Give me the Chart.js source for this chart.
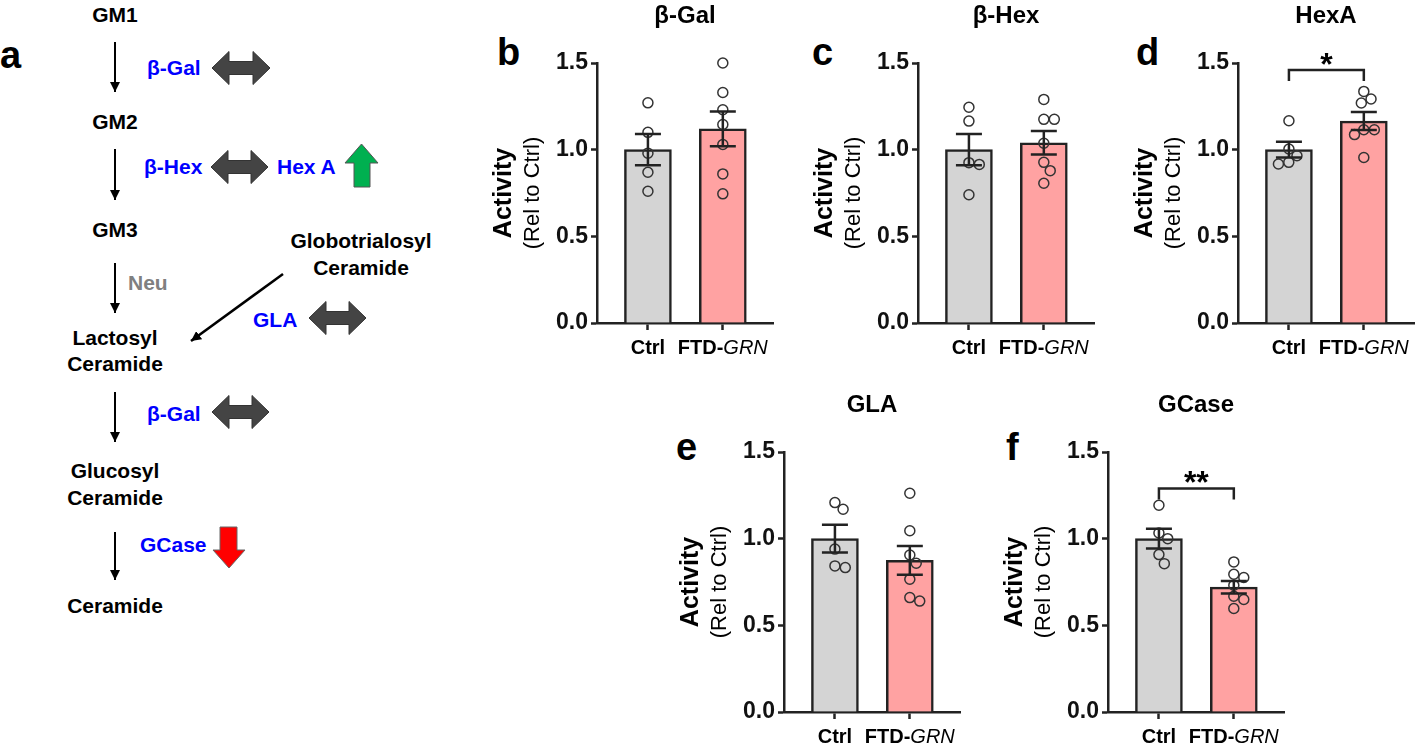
<!DOCTYPE html>
<html>
<head>
<meta charset="utf-8">
<script src="https://cdn.jsdelivr.net/npm/chart.js@4.4.1/dist/chart.umd.min.js"></script>
<style>
  html, body { margin: 0; padding: 0; background: #fff; }
  body { width: 1418px; height: 745px; position: relative; overflow: hidden; font-family: 'Liberation Sans', Arial, sans-serif; }
  canvas { position: absolute; }
  .letter { position: absolute; font-weight: bold; font-size: 38px; line-height: 1; color: #000; }
</style>
</head>
<body>

<!-- panel a: pathway diagram -->
<svg id="pathway" width="440" height="745" style="position:absolute;left:0;top:0"
     font-family="Liberation Sans, Arial, sans-serif" font-weight="bold">
  <defs>
    <marker id="ah" viewBox="0 0 10 10" refX="10" refY="5" markerWidth="10" markerHeight="10"
            markerUnits="userSpaceOnUse" orient="auto">
      <path d="M0,0 L10,5 L0,10 z" fill="#000"/>
    </marker>
  </defs>
  <text x="0" y="68" font-size="38">a</text>

  <g font-size="21" text-anchor="middle" fill="#000">
    <text x="115" y="22">GM1</text>
    <text x="115" y="129">GM2</text>
    <text x="115" y="237">GM3</text>
    <text x="115" y="345">Lactosyl</text>
    <text x="115" y="371">Ceramide</text>
    <text x="115" y="478">Glucosyl</text>
    <text x="115" y="505">Ceramide</text>
    <text x="115" y="613">Ceramide</text>
    <text x="361" y="248">Globotrialosyl</text>
    <text x="361" y="275">Ceramide</text>
  </g>

  <g stroke="#000" stroke-width="2">
    <line x1="115" y1="42" x2="115" y2="92" marker-end="url(#ah)"/>
    <line x1="115" y1="149" x2="115" y2="200" marker-end="url(#ah)"/>
    <line x1="115" y1="263" x2="115" y2="313" marker-end="url(#ah)"/>
    <line x1="115" y1="392" x2="115" y2="442" marker-end="url(#ah)"/>
    <line x1="115" y1="532" x2="115" y2="580" marker-end="url(#ah)"/>
    <line x1="283" y1="274" x2="191" y2="341" stroke-width="2.5" marker-end="url(#ah)"/>
  </g>

  <g font-size="21" fill="#0000ff">
    <text x="147" y="75">β-Gal</text>
    <text x="144" y="174">β-Hex</text>
    <text x="277" y="174">Hex A</text>
    <text x="253" y="327">GLA</text>
    <text x="147" y="421">β-Gal</text>
    <text x="140" y="552">GCase</text>
  </g>
  <text x="128" y="290" font-size="21" fill="#808080">Neu</text>

  <g id="dbl" fill="#444" stroke="#333" stroke-width="1"></g>
  <polygon points="361.5,144 378,163 370,163 370,187 354,187 354,163 345,163"
           fill="#00b050" stroke="#555" stroke-width="1"/>
  <polygon points="220,527 237,527 237,550 245,550 229,568 213,550 220,550"
           fill="#ff0000" stroke="#666" stroke-width="1"/>
</svg>

<div class="letter" style="left:497px;top:33px">b</div>
<div class="letter" style="left:812px;top:33px">c</div>
<div class="letter" style="left:1136px;top:33px">d</div>
<div class="letter" style="left:676px;top:428px">e</div>
<div class="letter" style="left:1006px;top:428px">f</div>

<canvas id="chart0" width="306" height="365"></canvas>
<canvas id="chart1" width="306" height="365"></canvas>
<canvas id="chart2" width="306" height="365"></canvas>
<canvas id="chart3" width="306" height="365"></canvas>
<canvas id="chart4" width="306" height="365"></canvas>

<script>
// ---- data ----
const groups = ['Ctrl', 'FTD-GRN'];
const panelTitles = ['β-Gal', 'β-Hex', 'HexA', 'GLA', 'GCase'];
const ctrlMean = [1.0, 1.0, 1.0, 1.0, 1.0];
const ftdMean = [1.12, 1.04, 1.165, 0.875, 0.72];
const ctrlSem = [0.09, 0.09, 0.045, 0.08, 0.057];
const ftdSem = [0.10, 0.068, 0.052, 0.083, 0.036];
const ctrlPoints = [
  [1.27, 1.10, 0.98, 0.87, 0.76],
  [1.245, 1.165, 0.925, 0.915, 0.74],
  [1.167, 1.004, 0.965, 0.927, 0.917],
  [1.208, 1.17, 0.94, 0.843, 0.833],
  [1.193, 1.033, 1.0, 0.908, 0.856]
];
const ftdPoints = [
  [1.50, 1.33, 1.23, 1.145, 1.03, 0.86, 0.745],
  [1.29, 1.175, 1.175, 1.037, 0.927, 0.879, 0.806],
  [1.336, 1.292, 1.269, 1.115, 1.115, 1.087, 0.955],
  [1.262, 1.046, 0.906, 0.858, 0.766, 0.66, 0.64],
  [0.866, 0.795, 0.776, 0.731, 0.668, 0.649, 0.597]
];
const yTicks = [0, 0.5, 1.0, 1.5];
const sigLabel = ['', '', '*', '', '**'];
const sigLevel = [null, null, 1.46, null, 1.29];

// ---- layout (axis origin: left edge x, top of 1.5 y) ----
const axisPos = [[597, 63], [918, 63], [1238, 63], [784, 452], [1108, 452]];
const FONT = "'Liberation Sans', Arial, sans-serif";
const INK = '#222';
const X_MIN = -0.68, X_MAX = 1.67;
const PX_X = 176 / (X_MAX - X_MIN);
const PX_Y = 260 / 1.5;

Chart.defaults.font.family = FONT;

// simple beeswarm so overlapping circles spread sideways like in Prism
function swarm(values, center) {
  const D = 10.5;
  const placed = [];
  const out = new Array(values.length);
  const order = values.map((v, i) => i).sort((a, b) => values[b] - values[a]);
  for (const i of order) {
    const y = values[i] * PX_Y;
    const cands = [0];
    for (const p of placed) {
      const dy = Math.abs(p.y - y);
      if (dy < D) {
        const dx = Math.sqrt(D * D - dy * dy);
        cands.push(p.x + dx, p.x - dx);
      }
    }
    cands.sort((a, b) => Math.abs(a) - Math.abs(b));
    const x = cands.find(c => placed.every(p => Math.hypot(p.x - c, p.y - y) >= D - 0.01));
    placed.push({ x, y });
    out[i] = { x: center + x / PX_X, y: values[i] };
  }
  return out;
}

// error bars, labels, brackets
const panelDecor = {
  id: 'panelDecor',
  afterDatasetsDraw(chart, args, opts) {
    const { ctx, scales: { x, y } } = chart;
    ctx.save();
    ctx.strokeStyle = INK;
    ctx.lineWidth = 2.5;
    opts.means.forEach((m, i) => {
      const px = x.getPixelForValue(i);
      const top = y.getPixelForValue(m + opts.sems[i]);
      const bot = y.getPixelForValue(m - opts.sems[i]);
      ctx.beginPath();
      ctx.moveTo(px, top); ctx.lineTo(px, bot);
      ctx.moveTo(px - 13, top); ctx.lineTo(px + 13, top);
      ctx.moveTo(px - 13, bot); ctx.lineTo(px + 13, bot);
      ctx.stroke();
    });
    ctx.restore();
  },
  afterDraw(chart, args, opts) {
    const { ctx, chartArea: ca, scales: { x, y } } = chart;
    ctx.save();
    ctx.fillStyle = '#000';

    // title
    ctx.font = 'bold 24px ' + FONT;
    ctx.textAlign = 'center';
    ctx.textBaseline = 'alphabetic';
    ctx.fillText(opts.title, (ca.left + ca.right) / 2, ca.top - 40);

    // y axis title, two styles
    ctx.save();
    ctx.translate(ca.left - 86, (ca.top + ca.bottom) / 2);
    ctx.rotate(-Math.PI / 2);
    ctx.font = 'bold 25px ' + FONT;
    ctx.fillText('Activity', 0, 0);
    ctx.font = '22px ' + FONT;
    ctx.fillText('(Rel to Ctrl)', 0, 28);
    ctx.restore();

    // x category labels, GRN in italics
    const ly = ca.bottom + 31;
    ctx.font = 'bold 20px ' + FONT;
    ctx.fillText(groups[0], x.getPixelForValue(0), ly);
    const parts = groups[1].split('-');
    const pre = parts[0] + '-';
    const wPre = ctx.measureText(pre).width;
    ctx.font = 'italic 20px ' + FONT;
    const wIt = ctx.measureText(parts[1]).width;
    const start = x.getPixelForValue(1) - (wPre + wIt) / 2;
    ctx.textAlign = 'left';
    ctx.font = 'bold 20px ' + FONT;
    ctx.fillText(pre, start, ly);
    ctx.font = 'italic 20px ' + FONT;
    ctx.fillText(parts[1], start + wPre, ly);

    // significance bracket
    if (opts.sig) {
      const x0 = x.getPixelForValue(0), x1 = x.getPixelForValue(1);
      const by = y.getPixelForValue(opts.level);
      ctx.strokeStyle = INK;
      ctx.lineWidth = 2.5;
      ctx.beginPath();
      ctx.moveTo(x0, by + 11); ctx.lineTo(x0, by); ctx.lineTo(x1, by); ctx.lineTo(x1, by + 11);
      ctx.stroke();
      ctx.textAlign = 'center';
      ctx.font = 'bold 32px ' + FONT;
      ctx.fillText(opts.sig, (x0 + x1) / 2, by + 5);
    }
    ctx.restore();
  }
};

panelTitles.forEach((title, p) => {
  const cv = document.getElementById('chart' + p);
  cv.style.left = (axisPos[p][0] - 120) + 'px';
  cv.style.top = (axisPos[p][1] - 60) + 'px';

  const pts = swarm(ctrlPoints[p], 0).concat(swarm(ftdPoints[p], 1));

  new Chart(cv, {
    type: 'bar',
    data: {
      datasets: [
        {
          type: 'bar',
          data: [{ x: 0, y: ctrlMean[p] }, { x: 1, y: ftdMean[p] }],
          backgroundColor: ['#d4d4d4', '#ffa2a2'],
          borderColor: INK,
          borderWidth: 2.5,
          borderSkipped: 'bottom',
          barThickness: 47,
          order: 2
        },
        {
          type: 'scatter',
          data: pts,
          clip: false,
          pointRadius: 5,
          pointBorderWidth: 1.5,
          pointBorderColor: '#333',
          pointBackgroundColor: 'rgba(255,255,255,0)',
          showLine: false,
          order: 1
        }
      ]
    },
    options: {
      responsive: false,
      animation: false,
      devicePixelRatio: 1,
      events: [],
      layout: { padding: { top: 60, left: 0, right: 10, bottom: 0 } },
      plugins: {
        legend: { display: false },
        tooltip: { enabled: false },
        panelDecor: {
          title: title,
          means: [ctrlMean[p], ftdMean[p]],
          sems: [ctrlSem[p], ftdSem[p]],
          sig: sigLabel[p],
          level: sigLevel[p]
        }
      },
      scales: {
        x: {
          type: 'linear',
          min: X_MIN,
          max: X_MAX,
          offset: false,
          afterBuildTicks: s => { s.ticks = [{ value: 0 }, { value: 1 }]; },
          afterFit: s => { s.height = 45; },
          ticks: { display: false },
          border: { display: true, color: INK, width: 2.5 },
          grid: { display: true, offset: false, drawOnChartArea: false, drawTicks: true, tickLength: 7, tickWidth: 2.5, tickColor: INK }
        },
        y: {
          min: 0,
          max: 1.5,
          afterBuildTicks: s => { s.ticks = yTicks.map(v => ({ value: v })); },
          afterFit: s => { s.width = 120; },
          ticks: {
            color: '#111',
            padding: 3,
            font: { size: 23, weight: 'bold' },
            callback: v => Number(v).toFixed(1)
          },
          border: { display: true, color: INK, width: 2.5 },
          grid: { display: true, drawOnChartArea: false, drawTicks: true, tickLength: 6, tickWidth: 2.5, tickColor: INK }
        }
      }
    },
    plugins: [panelDecor]
  });
});

// grey double-headed arrows of panel a
const dblArrows = [[212, 270, 68], [211, 268, 167], [309, 366, 318], [212, 269, 412]];
const g = document.getElementById('dbl');
dblArrows.forEach(([x0, x1, cy]) => {
  const H = 16.5, h = 6.5, L = 17;
  const pts = [[x0, cy], [x0 + L, cy - H], [x0 + L, cy - h], [x1 - L, cy - h], [x1 - L, cy - H], [x1, cy],
               [x1 - L, cy + H], [x1 - L, cy + h], [x0 + L, cy + h], [x0 + L, cy + H]];
  const poly = document.createElementNS('http://www.w3.org/2000/svg', 'polygon');
  poly.setAttribute('points', pts.map(q => q.join(',')).join(' '));
  g.appendChild(poly);
});
</script>
</body>
</html>
